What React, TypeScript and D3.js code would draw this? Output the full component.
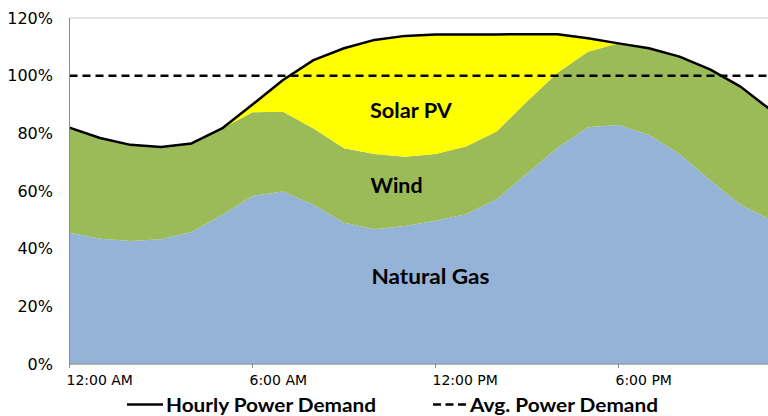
import React, { useEffect, useRef } from 'react';
import * as d3 from 'd3';

// hourly values, % of average demand
const hours = [0, 1, 2, 3, 4, 5, 6, 7, 8, 9, 10, 11, 12, 13, 14, 15, 16, 17, 18, 19, 20, 21, 22, 23];
const naturalGas = [45.5, 43.4, 42.7, 43.3, 45.8, 51.7, 58.3, 59.8, 55.2, 49, 46.7, 47.9, 49.7, 51.9, 57.1, 66.1, 75, 82.1, 82.9, 79.4, 72.8, 63.8, 55.2, 50];
const wind = [36.5, 35, 33.3, 32, 30.7, 30, 29, 27.7, 26.5, 25.8, 26.1, 24, 23.1, 23.5, 23.5, 24.9, 26, 26.2, 28.3, 30.1, 33.8, 38.4, 41, 38];
const solarPV = [0, 0, 0, 0, 0, 0, 2.7, 11, 23.7, 34.7, 39.6, 41.9, 41.5, 38.9, 33.7, 23.4, 13.4, 4.7, 0, 0, 0, 0, 0, 0];
const hourlyDemand = [82, 78.4, 76, 75.3, 76.5, 81.7, 90, 98.5, 105.4, 109.5, 112.4, 113.8, 114.3, 114.3, 114.3, 114.4, 114.4, 113, 111.2, 109.5, 106.6, 102.2, 96.2, 88];
const avgDemand = 100;

const yTicks = [0, 20, 40, 60, 80, 100, 120];
const xTicks = [0, 6, 12, 18];
const xTickLabels = ['12:00 AM', '6:00 AM', '12:00 PM', '6:00 PM'];

const seriesKeys = ['gas', 'wind', 'solar'];
const seriesColors = { gas: '#95b3d7', wind: '#9bbb59', solar: '#ffff00' };
const areaLabels = [
  { key: 'solar', text: 'Solar PV', hour: 9.85, value: 85.4, len: 82 },
  { key: 'wind', text: 'Wind', hour: 9.87, value: 59.4, len: 52 },
  { key: 'gas', text: 'Natural Gas', hour: 9.9, value: 27.7, len: 118 },
];

const App = () => {
  const svgRef = useRef<SVGSVGElement>(null);

  useEffect(() => {
    const width = 768;
    const height = 416;
    const plot = { left: 69.5, top: 18, bottom: 364, right: 771 };

    d3.select(svgRef.current).selectAll('*').remove();
    const svg = d3.select(svgRef.current)
      .attr('width', width)
      .attr('height', height);

    const x = d3.scaleLinear().domain([0, 23]).range([plot.left, plot.right]);
    const y = d3.scaleLinear().domain([0, 120]).range([plot.bottom, plot.top]);

    const table = hours.map((h, i) => ({
      hour: h,
      gas: naturalGas[i],
      wind: wind[i],
      solar: solarPV[i],
    }));

    const stacked = d3.stack().keys(seriesKeys)(table as any);

    const area = d3.area<any>()
      .x(d => x(d.data.hour))
      .y0(d => y(d[0]))
      .y1(d => y(d[1]));

    // plot area border
    svg.append('rect')
      .attr('x', plot.left)
      .attr('y', plot.top)
      .attr('width', plot.right - plot.left)
      .attr('height', plot.bottom - plot.top)
      .attr('fill', 'none')
      .attr('stroke', '#c8c8c8')
      .attr('stroke-width', 1);

    svg.selectAll('.layer')
      .data(stacked)
      .enter()
      .append('path')
      .attr('d', d => area(d as any))
      .attr('fill', d => seriesColors[d.key]);

    // area labels
    svg.selectAll('.area-label')
      .data(areaLabels)
      .enter()
      .append('text')
      .attr('x', d => x(d.hour))
      .attr('y', d => y(d.value))
      .attr('font-family', 'Lato, "Open Sans", sans-serif')
      .attr('font-weight', 700)
      .attr('font-size', 21)
      .attr('textLength', d => d.len)
      .attr('lengthAdjust', 'spacingAndGlyphs')
      .attr('fill', '#000')
      .text(d => d.text);

    // average demand
    svg.append('line')
      .attr('x1', plot.left)
      .attr('x2', width)
      .attr('y1', y(avgDemand))
      .attr('y2', y(avgDemand))
      .attr('stroke', '#000')
      .attr('stroke-width', 2.5)
      .attr('stroke-dasharray', '8,5');

    // hourly demand
    const line = d3.line<number>()
      .x((d, i) => x(hours[i]))
      .y(d => y(d));

    svg.append('path')
      .datum(hourlyDemand)
      .attr('d', line)
      .attr('fill', 'none')
      .attr('stroke', '#000')
      .attr('stroke-width', 2.5)
      .attr('stroke-linejoin', 'round');

    // Y axis
    svg.append('line')
      .attr('x1', plot.left).attr('x2', plot.left)
      .attr('y1', plot.top).attr('y2', plot.bottom)
      .attr('stroke', '#8c8c8c');

    svg.selectAll('.ytick')
      .data(yTicks)
      .enter()
      .append('text')
      .attr('x', 53)
      .attr('y', d => y(d) + 5.8)
      .attr('text-anchor', 'end')
      .attr('font-family', '"DejaVu Sans", sans-serif')
      .attr('font-size', 16)
      .attr('fill', '#000')
      .text(d => `${d}%`);

    // X axis
    svg.append('line')
      .attr('x1', plot.left).attr('x2', width)
      .attr('y1', plot.bottom).attr('y2', plot.bottom)
      .attr('stroke', '#8c8c8c');

    svg.selectAll('.xtick')
      .data(xTicks)
      .enter()
      .append('line')
      .attr('x1', d => x(d)).attr('x2', d => x(d))
      .attr('y1', plot.bottom).attr('y2', plot.bottom + 4)
      .attr('stroke', '#8c8c8c');

    svg.selectAll('.xlabel')
      .data(xTicks)
      .enter()
      .append('text')
      .attr('x', d => x(d) - 3)
      .attr('y', 385)
      .attr('font-family', '"DejaVu Sans", sans-serif')
      .attr('font-size', 14)
      .attr('fill', '#000')
      .text((d, i) => xTickLabels[i]);

    // legend
    const legend = svg.append('g');
    legend.append('line')
      .attr('x1', 127).attr('x2', 163)
      .attr('y1', 404.5).attr('y2', 404.5)
      .attr('stroke', '#000')
      .attr('stroke-width', 2.5);
    legend.append('text')
      .attr('x', 166)
      .attr('y', 411.5)
      .attr('font-family', 'Lato, "Open Sans", sans-serif')
      .attr('font-weight', 700)
      .attr('font-size', 18.5)
      .attr('textLength', 210)
      .attr('lengthAdjust', 'spacingAndGlyphs')
      .text('Hourly Power Demand');
    legend.append('line')
      .attr('x1', 433).attr('x2', 466)
      .attr('y1', 404.5).attr('y2', 404.5)
      .attr('stroke', '#000')
      .attr('stroke-width', 2.5)
      .attr('stroke-dasharray', '8,4.5');
    legend.append('text')
      .attr('x', 470)
      .attr('y', 411.5)
      .attr('font-family', 'Lato, "Open Sans", sans-serif')
      .attr('font-weight', 700)
      .attr('font-size', 18.5)
      .attr('textLength', 188)
      .attr('lengthAdjust', 'spacingAndGlyphs')
      .text('Avg. Power Demand');
  }, []);

  return (
    <svg ref={svgRef} style={{ position: 'absolute', left: 0, top: 0, background: '#fff' }} />
  );
};

export default App;
